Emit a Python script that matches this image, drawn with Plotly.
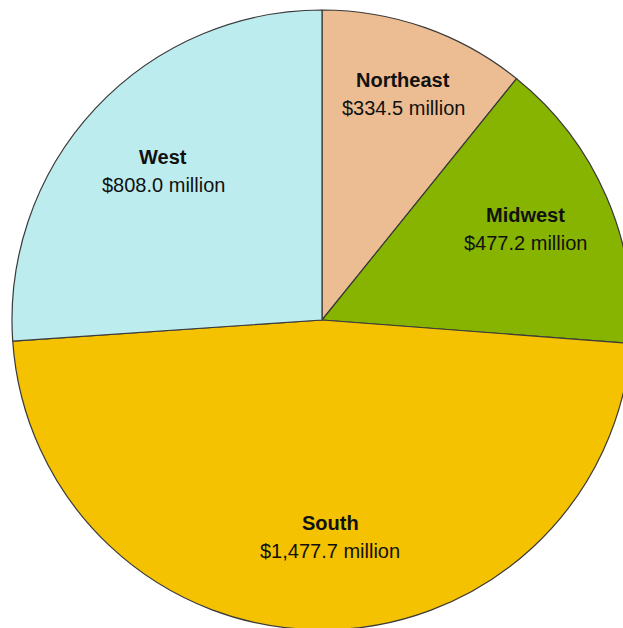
import plotly.graph_objects as go

# Regional totals (millions of dollars)
regions = ["Northeast", "Midwest", "South", "West"]
amounts = [334.5, 477.2, 1477.7, 808.0]
slice_colors = ["#ECBD92", "#86B400", "#F4C200", "#BDECEE"]

# Label anchor points in pixels (name line, value line share x)
label_px = {
    "Northeast": (403, 80),
    "Midwest": (525, 215),
    "South": (330, 523),
    "West": (163, 157),
}

W, H = 645, 640

fig = go.Figure(
    go.Pie(
        labels=regions,
        values=amounts,
        sort=False,
        direction="clockwise",
        rotation=0,
        textinfo="none",
        hoverinfo="label+value",
        marker=dict(colors=slice_colors, line=dict(color="#3a3a3a", width=1.2)),
        domain=dict(x=[12 / W, 632 / W], y=[10 / H, 630 / H]),
        showlegend=False,
    )
)

annotations = []
for name, val in zip(regions, amounts):
    px, py = label_px[name]
    annotations.append(dict(
        x=px / W, y=1 - py / H, xref="paper", yref="paper",
        text=f"<b>{name}</b>", showarrow=False,
        font=dict(family="Liberation Sans, Arial", size=20, color="#111111"),
        xanchor="center", yanchor="middle",
    ))
    annotations.append(dict(
        x=px / W, y=1 - (py + 28) / H, xref="paper", yref="paper",
        text=f"${val:,.1f} million", showarrow=False,
        font=dict(family="Liberation Sans, Arial", size=20, color="#111111"),
        xanchor="center", yanchor="middle",
    ))

fig.update_layout(
    width=W, height=H,
    autosize=False,
    margin=dict(l=0, r=0, t=0, b=0),
    paper_bgcolor="white",
    plot_bgcolor="white",
    annotations=annotations,
)

fig.write_html(
    "out.html",
    post_script="document.documentElement.style.overflow='hidden';"
                "document.body.style.overflow='hidden';"
                "document.body.style.margin='0';",
)
